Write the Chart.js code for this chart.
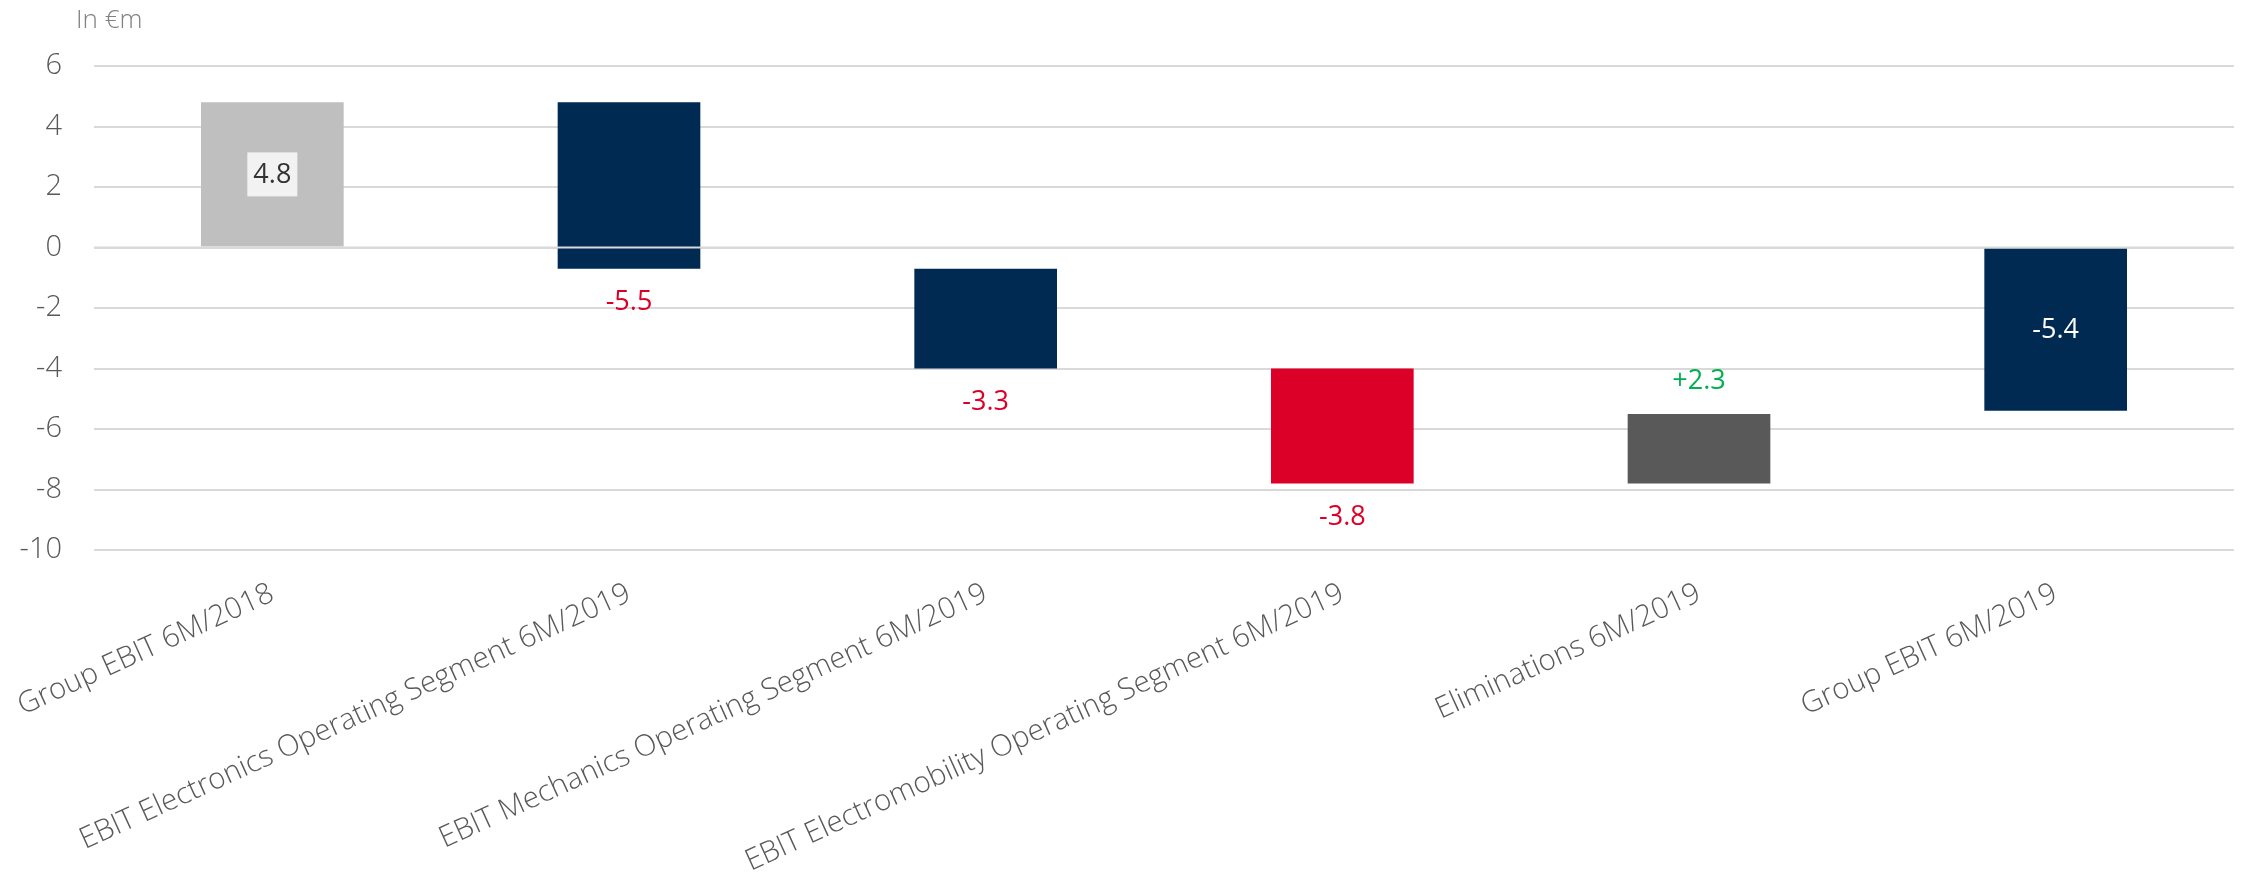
<!DOCTYPE html>
<html>
<head>
<meta charset="utf-8">
<script src="https://cdn.jsdelivr.net/npm/chart.js@4/dist/chart.umd.min.js"></script>
<style>
  html, body { margin: 0; padding: 0; background: #ffffff; }
  #wrap { width: 2244px; height: 894px; position: relative; }
</style>
</head>
<body>
<div id="wrap"><canvas id="c" width="2244" height="894"></canvas></div>
<script>
// EBIT bridge, first half 2018 to first half 2019 (in EUR million)
const categories = [
  'Group EBIT 6M/2018',
  'EBIT Electronics Operating Segment 6M/2019',
  'EBIT Mechanics Operating Segment 6M/2019',
  'EBIT Electromobility Operating Segment 6M/2019',
  'Eliminations 6M/2019',
  'Group EBIT 6M/2019'
];
const groupEbit2018 = 4.8;
const segmentChanges = [-5.5, -3.3, -3.8, 2.3];
const groupEbit2019 = -5.4;
const barColors = ['#BFBFBF', '#002A52', '#002A52', '#DC0028', '#595959', '#002A52'];
const yTickValues = [6, 4, 2, 0, -2, -4, -6, -8, -10];

// Floating ranges: totals start at zero, changes start where the previous bar ended
const ranges = [[0, groupEbit2018]];
let running = groupEbit2018;
segmentChanges.forEach(function (d) {
  ranges.push([running, running + d]);
  running = +(running + d).toFixed(1);
});
ranges.push([0, groupEbit2019]);

const labelValues = [groupEbit2018].concat(segmentChanges, [groupEbit2019]);
const labelText = labelValues.map(function (v, i) {
  const s = v.toFixed(1);
  return (i > 0 && i < labelValues.length - 1 && v > 0) ? '+' + s : s;
});
// where each value label sits and how it is coloured
const labelPlacement = ['box', 'below', 'below', 'below', 'above', 'inside'];
const labelColors = ['#333333', '#DC0028', '#DC0028', '#DC0028', '#00B050', '#FFFFFF'];

const FONT = "'Segoe UI', 'Open Sans', 'Noto Sans', sans-serif";

const valueLabels = {
  id: 'valueLabels',
  afterDatasetsDraw(chart) {
    const ctx = chart.ctx;
    const area = chart.chartArea;
    const y0 = chart.scales.y.getPixelForValue(0);
    // horizontal axis at zero, drawn over the bars
    ctx.save();
    ctx.strokeStyle = '#D9D9D9';
    ctx.lineWidth = 2;
    ctx.beginPath();
    ctx.moveTo(area.left, y0);
    ctx.lineTo(area.right, y0);
    ctx.stroke();

    const meta = chart.getDatasetMeta(0);
    ctx.font = '400 27px ' + FONT;
    ctx.textAlign = 'center';
    ctx.textBaseline = 'middle';
    meta.data.forEach(function (el, i) {
      const top = Math.min(el.y, el.base);
      const bottom = Math.max(el.y, el.base);
      const mid = (top + bottom) / 2;
      let y = mid;
      if (labelPlacement[i] === 'below') y = bottom + 33;
      if (labelPlacement[i] === 'above') y = top - 34;
      if (labelPlacement[i] === 'box') {
        ctx.fillStyle = '#F2F2F2';
        ctx.fillRect(el.x - 25, mid - 22, 50, 44);
      }
      ctx.fillStyle = labelColors[i];
      ctx.fillText(labelText[i], el.x, y + 1);
    });

    // unit caption above the value axis
    ctx.font = '300 26px ' + FONT;
    ctx.fillStyle = '#808080';
    ctx.textAlign = 'left';
    ctx.textBaseline = 'alphabetic';
    ctx.fillText('In €m', area.left - 18, 28);
    ctx.restore();
  }
};

new Chart(document.getElementById('c'), {
  type: 'bar',
  data: {
    labels: categories,
    datasets: [{
      data: ranges,
      backgroundColor: barColors,
      borderWidth: 0,
      barPercentage: 1,
      categoryPercentage: 0.4
    }]
  },
  options: {
    responsive: false,
    animation: false,
    devicePixelRatio: 1,
    layout: { padding: { left: 0, right: 10, top: 66, bottom: 0 } },
    plugins: {
      legend: { display: false },
      tooltip: { enabled: false }
    },
    scales: {
      x: {
        grid: { display: false },
        border: { display: false },
        afterFit(scale) {
          scale.height = 344;
          scale.paddingLeft = 0;
          scale.paddingRight = 0;
        },
        ticks: {
          autoSkip: false,
          maxRotation: 24.5,
          minRotation: 24.5,
          padding: 18,
          color: '#595959',
          font: { family: FONT, size: 29.5, weight: 300 }
        }
      },
      y: {
        min: -10,
        max: 6,
        afterBuildTicks(scale) {
          scale.ticks = yTickValues.map(function (v) { return { value: v }; });
        },
        afterFit(scale) {
          scale.width = 94;
        },
        grid: { color: '#D9D9D9', lineWidth: 2, drawTicks: false },
        border: { display: false },
        ticks: {
          padding: 32,
          color: '#595959',
          font: { family: FONT, size: 29, weight: 300 }
        }
      }
    }
  },
  plugins: [valueLabels]
});
</script>
</body>
</html>
